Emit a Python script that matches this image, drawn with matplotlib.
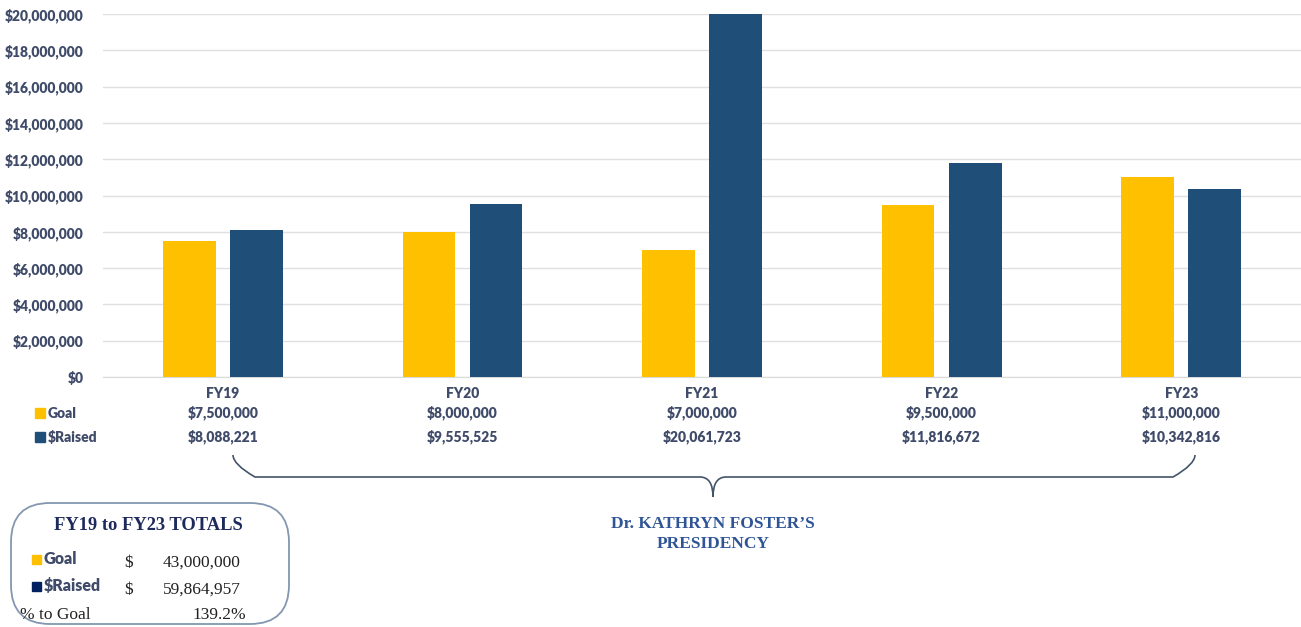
import matplotlib.pyplot as plt
import matplotlib.transforms as mtransforms
from matplotlib.patches import FancyBboxPatch, PathPatch, Rectangle
from matplotlib.path import Path
import numpy as np

years = ["FY19", "FY20", "FY21", "FY22", "FY23"]
goal = [7500000, 8000000, 7000000, 9500000, 11000000]
raised = [8088221, 9555525, 20061723, 11816672, 10342816]
total_goal = 43000000
total_raised = 59864957
pct_to_goal = "139.2%"
president = "Dr. KATHRYN FOSTER\u2019S\nPRESIDENCY"

GOLD = "#FFC000"
BLUE = "#1F4E79"
NAVY = "#002060"
TXT = "#3F4B69"
W, H = 1301, 627

plt.rcParams["font.family"] = ["Lato", "DejaVu Sans"]

fig = plt.figure(figsize=(W / 100, H / 100), dpi=100)
ax = fig.add_axes([103 / W, 1 - 377 / H, 1 - 103 / W, (377 - 14) / H])

x = np.arange(len(years))
bw = 0.22
ax.bar(x - 0.14, goal, bw, color=GOLD, zorder=3)
ax.bar(x + 0.14, raised, bw, color=BLUE, zorder=3)
ax.set_xlim(-0.5, len(years) - 0.5)
ax.set_ylim(0, 20000000)
ax.set_yticks(np.arange(0, 20000001, 2000000))
ax.set_yticklabels(["${:,.0f}".format(v) for v in ax.get_yticks()],
                   fontsize=10, fontweight="heavy", color=TXT)
ax.tick_params(axis="y", length=0, pad=14)
ax.set_xticks([])
ax.grid(axis="y", color="#E0E0E0", lw=1, zorder=0)
for s in ["top", "right", "left"]:
    ax.spines[s].set_visible(False)
ax.spines["bottom"].set_color("#D9D9D9")

# data table under the axis
tr = mtransforms.blended_transform_factory(ax.transData, fig.transFigure)
def fy(py):
    return 1 - py / H

for i, yr in enumerate(years):
    ax.text(i, fy(393), yr, transform=tr, ha="center", va="center",
            fontsize=10, fontweight="heavy", color=TXT)
    ax.text(i, fy(413), "${:,}".format(goal[i]), transform=tr, ha="center",
            va="center", fontsize=10, fontweight="heavy", color=TXT)
    ax.text(i, fy(437), "${:,}".format(raised[i]), transform=tr, ha="center",
            va="center", fontsize=10, fontweight="heavy", color=TXT)

for py, c, lab in [(413, GOLD, "Goal"), (437, BLUE, "$Raised")]:
    fig.patches.append(Rectangle((35 / W, fy(py + 5)), 10 / W, 10 / H,
                                 transform=fig.transFigure, color=c))
    fig.text(48 / W, fy(py), lab, ha="left", va="center", fontsize=10,
             fontweight="heavy", color=TXT)

# brace
x0, x1, xm = 233 / W, 1195 / W, 713 / W
yt, yb, yp = fy(455), fy(477), fy(497)
r = 22 / W
verts = [(x0, yt), (x0, yb + 0.02), (x0 + r, yb),
         (xm - 0.01, yb), (xm, yb), (xm, yp),
         (xm, yb), (xm + 0.01, yb),
         (x1 - r, yb), (x1, yb + 0.02), (x1, yt)]
codes = [Path.MOVETO, Path.CURVE3, Path.CURVE3,
         Path.LINETO, Path.CURVE3, Path.CURVE3,
         Path.CURVE3, Path.CURVE3,
         Path.LINETO, Path.CURVE3, Path.CURVE3]
fig.patches.append(PathPatch(Path(verts, codes), transform=fig.transFigure,
                             fill=False, ec="#44546A", lw=1.2))
fig.text(xm, fy(534), president, ha="center", va="center", fontsize=12.5,
         fontweight="bold", color="#2F5597", family="Liberation Serif",
         linespacing=1.25)

# totals box
fig.patches.append(FancyBboxPatch((11 / W, fy(624)), 278 / W, 121 / H,
                                  boxstyle="round,pad=0,rounding_size=0.03",
                                  transform=fig.transFigure, fill=False,
                                  ec="#8497B0", lw=1.3, mutation_aspect=W / H))
fig.text(148 / W, fy(525), "FY19 to FY23 TOTALS", ha="center", va="center",
         fontsize=13.3, fontweight="bold", color="#1F2A5C",
         family="Liberation Serif")
for py, c, lab, val in [(560, GOLD, "Goal", total_goal),
                        (587, NAVY, "$Raised", total_raised)]:
    fig.patches.append(Rectangle((32 / W, fy(py + 4)), 9 / W, 9 / H,
                                 transform=fig.transFigure, color=c))
    fig.text(44 / W, fy(py - 1), lab, ha="left", va="center", fontsize=11.5,
             fontweight="heavy", color=TXT)
    fig.text(124 / W, fy(py + 3), "$", ha="left", va="center", fontsize=12.5,
             color="#222222", family="Liberation Serif")
    fig.text(241 / W, fy(py + 3), "{:,}".format(val), ha="right", va="center",
             fontsize=12.5, color="#222222", family="Liberation Serif")
fig.text(20 / W, fy(615), "% to Goal", ha="left", va="center", fontsize=12.5,
         color="#222222", family="Liberation Serif")
fig.text(246 / W, fy(615), pct_to_goal, ha="right", va="center", fontsize=12.5,
         color="#222222", family="Liberation Serif")

fig.savefig("out.png", dpi=100)
